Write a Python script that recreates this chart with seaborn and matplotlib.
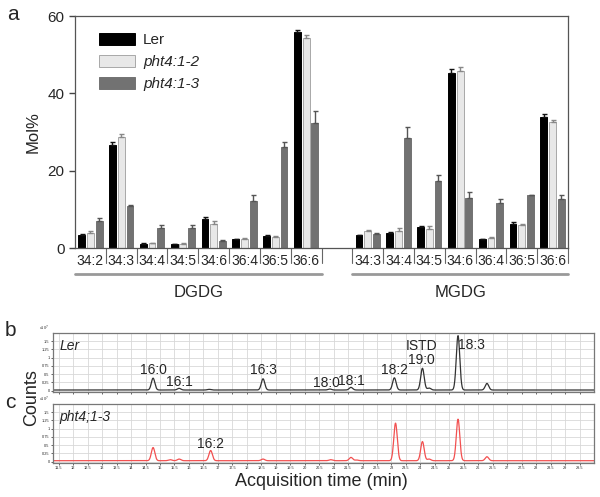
import numpy as np
import pandas as pd
import matplotlib
matplotlib.use("Agg")
import matplotlib.pyplot as plt
import matplotlib.patches as mpatches
import matplotlib.transforms as mtransforms
import seaborn as sns

# ---- panel a data (Mol%) ----
dgdg_species = ['34:2', '34:3', '34:4', '34:5', '34:6', '36:4', '36:5', '36:6']
mgdg_species = ['34:3', '34:4', '34:5', '34:6', '36:4', '36:5', '36:6']
genotypes = ['Ler', 'pht4:1-2', 'pht4:1-3']

dgdg_ler = [3.4, 26.6, 1.1, 0.95, 7.6, 2.2, 3.0, 55.8]
dgdg_p2 = [4.0, 28.7, 1.2, 1.1, 6.3, 2.4, 2.8, 54.3]
dgdg_p3 = [7.0, 10.8, 5.3, 5.2, 1.8, 12.2, 26.2, 32.3]
dgdg_ler_err = [0.1, 0.8, 0.1, 0.1, 0.5, 0.1, 0.4, 0.7]
dgdg_p2_err = [0.3, 0.8, 0.1, 0.1, 0.6, 0.2, 0.2, 0.9]
dgdg_p3_err = [0.7, 0.4, 0.6, 0.7, 0.2, 1.4, 1.3, 3.2]

mgdg_ler = [3.3, 3.8, 5.5, 45.3, 2.3, 6.3, 33.8]
mgdg_p2 = [4.3, 4.3, 5.0, 45.8, 2.6, 5.9, 32.5]
mgdg_p3 = [3.6, 28.5, 17.2, 13.0, 11.6, 13.7, 12.8]
mgdg_ler_err = [0.1, 0.3, 0.1, 1.1, 0.1, 0.3, 0.9]
mgdg_p2_err = [0.3, 0.8, 0.6, 1.1, 0.2, 0.2, 0.6]
mgdg_p3_err = [0.4, 2.7, 1.8, 1.4, 1.0, 0.1, 0.8]

# ---- panels b, c data: peak retention time (min), height (x10^7 counts) ----
ler_peak_time = [14.76, 15.66, 16.7, 18.56, 20.87, 21.6, 23.1, 24.07, 24.3, 25.3, 26.3]
ler_peak_height = [0.36, 0.05, 0.02, 0.34, 0.03, 0.08, 0.37, 0.66, 0.06, 1.65, 0.2]
ler_labels = [('16:0', 14.76, 0.62), ('16:1', 15.66, 0.25), ('16:3', 18.56, 0.62),
              ('18:0', 20.75, 0.22), ('18:1', 21.6, 0.3), ('18:2', 23.1, 0.62),
              ('ISTD', 24.05, 1.35), ('19:0', 24.05, 0.92), ('18:3', 25.75, 1.4)]

p3_peak_time = [14.76, 15.35, 15.66, 16.75, 18.56, 20.9, 21.6, 21.8, 23.14, 24.07, 24.3, 25.3, 26.3]
p3_peak_height = [0.4, 0.03, 0.05, 0.31, 0.05, 0.03, 0.1, 0.02, 1.14, 0.58, 0.05, 1.26, 0.12]
p3_labels = [('16:2', 16.75, 0.55)]

# ---- build long table for seaborn ----
slots = ['D ' + s for s in dgdg_species] + ['gap'] + ['M ' + s for s in mgdg_species]
rows = []
for keys, vals in [(['D ' + s for s in dgdg_species], [dgdg_ler, dgdg_p2, dgdg_p3]),
                   (['M ' + s for s in mgdg_species], [mgdg_ler, mgdg_p2, mgdg_p3])]:
    for g, v in zip(genotypes, vals):
        for k, val in zip(keys, v):
            rows.append({'slot': k, 'genotype': g, 'molpct': val})
df = pd.DataFrame(rows)

errs = {
    'Ler': dgdg_ler_err + mgdg_ler_err,
    'pht4:1-2': dgdg_p2_err + mgdg_p2_err,
    'pht4:1-3': dgdg_p3_err + mgdg_p3_err,
}

sns.set_theme(style="white")
plt.rcParams['font.family'] = ['Liberation Sans', 'DejaVu Sans']

fig = plt.figure(figsize=(6, 4.97), dpi=100)

face = {'Ler': '#000000', 'pht4:1-2': '#e8e8e8', 'pht4:1-3': '#727272'}
edge = {'Ler': '#000000', 'pht4:1-2': '#a8a8a8', 'pht4:1-3': '#727272'}
errc = {'Ler': '#111111', 'pht4:1-2': '#888888', 'pht4:1-3': '#555555'}

# ---- panel a ----
ax = fig.add_axes([0.125, 0.501, 0.8217, 0.4668])
sns.barplot(data=df, x='slot', y='molpct', hue='genotype', order=slots,
            hue_order=genotypes, palette=face, saturation=1, width=0.85,
            gap=0.22, errorbar=None, legend=False, ax=ax)
for cont, g in zip(ax.containers, genotypes):
    xs, hs = [], []
    for p in cont.patches:
        p.set_edgecolor(edge[g])
        p.set_linewidth(0.7)
        xs.append(p.get_x() + p.get_width() / 2)
        hs.append(p.get_height())
    e = errs[g]
    ax.errorbar(xs, hs, yerr=[np.zeros(len(e)), e], fmt='none', ecolor=errc[g],
                elinewidth=1, capsize=1.8, capthick=1)

ax.set_xlim(-0.5, len(slots) - 0.5)
ax.set_ylim(0, 60)
ax.set_yticks([0, 20, 40, 60])
ax.tick_params(axis='y', labelsize=11, length=4, width=1, color='#444', left=True)
ax.set_xticks(range(len(slots)))
ax.set_xticklabels([s.split(' ')[1] if s != 'gap' else '' for s in slots], fontsize=10)
ax.tick_params(axis='x', length=0, pad=4)
ax.set_xlabel('')
ax.set_ylabel('Mol%', fontsize=12, labelpad=5)
for sp in ax.spines.values():
    sp.set_color('#555')
    sp.set_linewidth(0.9)

tr = mtransforms.blended_transform_factory(ax.transData, ax.transAxes)
for i in range(len(slots)):
    ax.plot([i + 0.5, i + 0.5], [0, -0.065], transform=tr, color='#666',
            lw=0.8, clip_on=False)
ax.plot([-0.5, 7.5], [-0.112, -0.112], transform=tr, color='#999', lw=2, clip_on=False)
ax.plot([8.5, 15.5], [-0.112, -0.112], transform=tr, color='#999', lw=2, clip_on=False)
ax.text(3.5, -0.19, 'DGDG', transform=tr, ha='center', va='center', fontsize=12)
ax.text(12, -0.19, 'MGDG', transform=tr, ha='center', va='center', fontsize=12)

handles = [mpatches.Patch(facecolor=face[g], edgecolor=edge[g], linewidth=0.7) for g in genotypes]
leg = ax.legend(handles, genotypes, loc='upper left', bbox_to_anchor=(0.02, 0.985),
                frameon=False, fontsize=11, handlelength=2.4, handleheight=0.8,
                labelspacing=0.5, handletextpad=0.5)
for t in leg.get_texts()[1:]:
    t.set_style('italic')

# ---- panels b and c ----
t = np.linspace(11.3, 30.0, 3000)


def trace(times, heights, base):
    y = np.full_like(t, base)
    for c, h in zip(times, heights):
        y += h * np.exp(-0.5 * ((t - c) / 0.06) ** 2)
    return y


chrom = [
    ([0.0883, 0.2113, 0.9017, 0.1187], ler_peak_time, ler_peak_height, 0.02,
     '#333333', 'Ler', ler_labels, False),
    ([0.0883, 0.0684, 0.9017, 0.1187], p3_peak_time, p3_peak_height, 0.03,
     '#f25050', 'pht4;1-3', p3_labels, True),
]
for pos, pt, ph, base, col, name, labels, show_x in chrom:
    cx = fig.add_axes(pos)
    sns.lineplot(x=t, y=trace(pt, ph, base), color=col, lw=0.9, ax=cx)
    cx.set_xlim(11.3, 30.0)
    cx.set_ylim(-0.04, 1.75)
    cx.set_xticks(np.arange(11.5, 30.0, 0.5))
    cx.set_yticks([0, 0.25, 0.5, 0.75, 1, 1.25, 1.5])
    cx.set_yticklabels(['0', '0.25', '0.5', '0.75', '1', '1.25', '1.5'])
    cx.set_xticklabels(['%g' % v for v in np.arange(11.5, 30.0, 0.5)])
    cx.grid(True, color='#d8d8d8', lw=0.6)
    cx.tick_params(labelsize=2.8, length=1.5, width=0.5, pad=1,
                   left=True, bottom=True, labelbottom=show_x)
    for sp in cx.spines.values():
        sp.set_color('#777')
        sp.set_linewidth(0.9)
    cx.text(-0.008, 1.0, 'x10$^7$', transform=cx.transAxes, fontsize=2.8,
            ha='right', va='bottom', color='#333')
    cx.text(0.012, 0.9, name, transform=cx.transAxes, fontsize=10,
            style='italic', va='top')
    for lab, lx, ly in labels:
        cx.text(lx, ly, lab, ha='center', va='center', fontsize=10)

fig.text(0.012, 0.99, 'a', fontsize=15, va='top')
fig.text(0.008, 0.335, 'b', fontsize=15, va='center')
fig.text(0.008, 0.19, 'c', fontsize=15, va='center')
fig.text(0.052, 0.2, 'Counts', rotation=90, fontsize=13, ha='center', va='center')
fig.text(0.535, 0.032, 'Acquisition time (min)', fontsize=13, ha='center', va='center')

fig.savefig('out.png', dpi=100)
